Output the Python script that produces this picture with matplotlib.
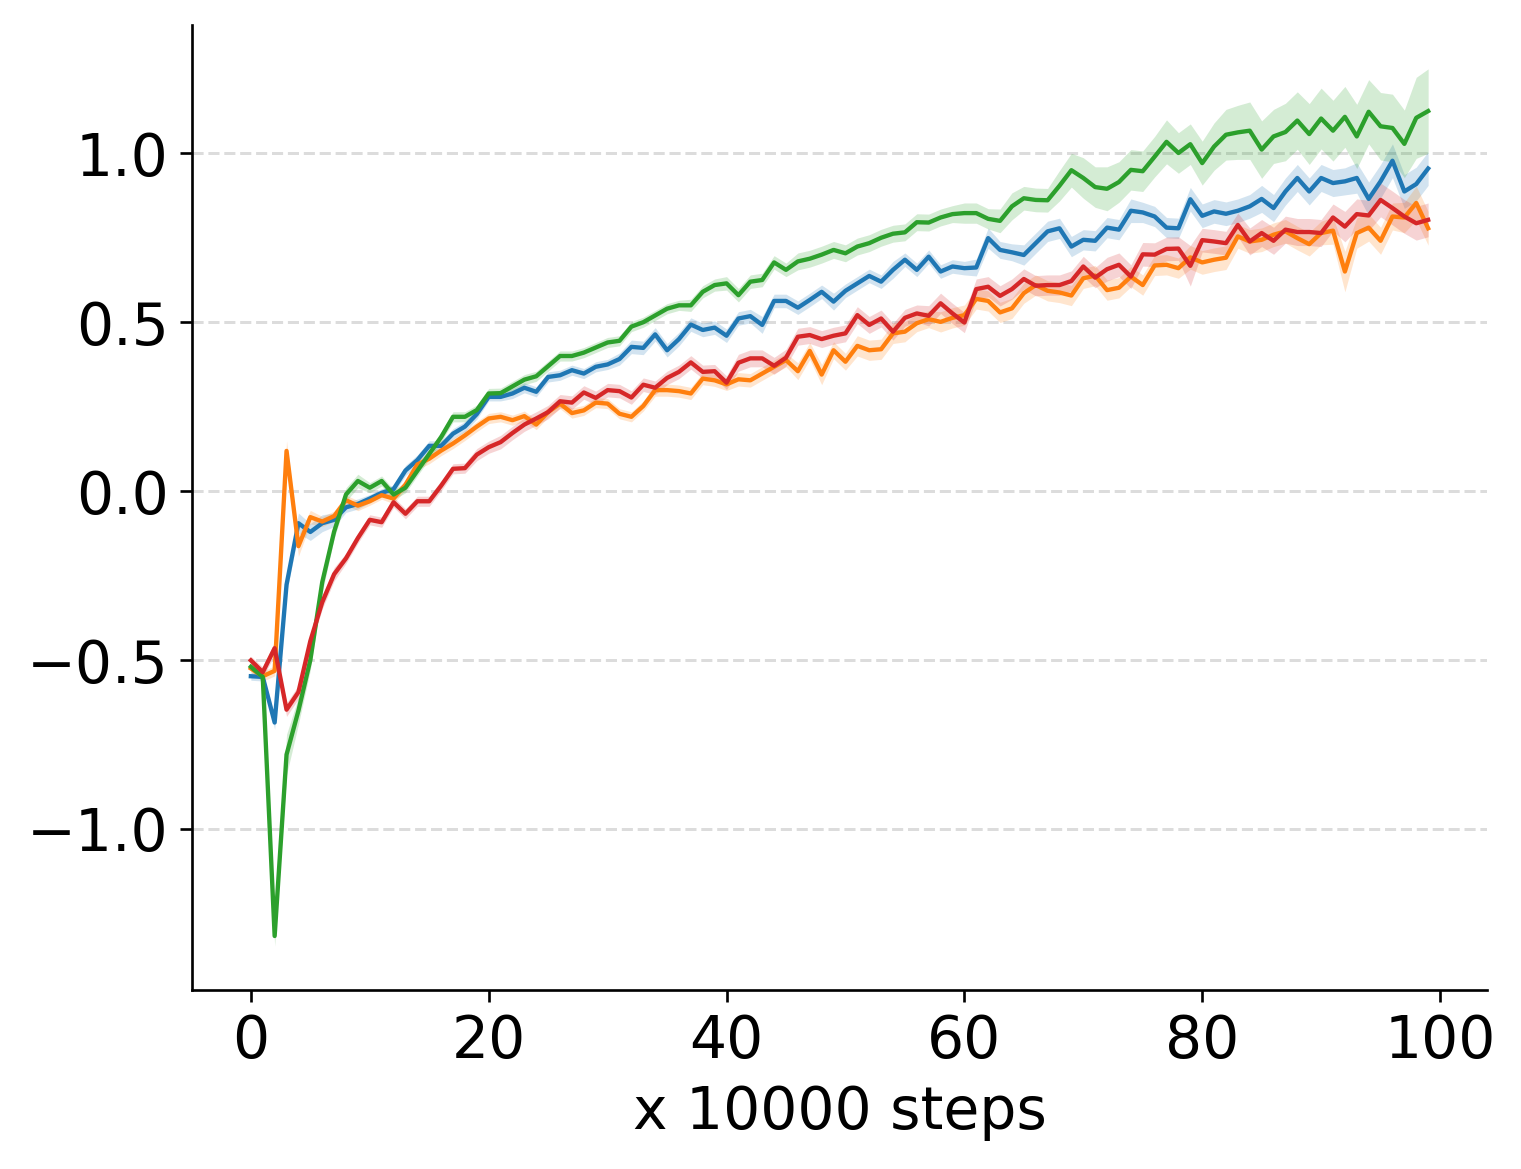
import numpy as np
import matplotlib
matplotlib.use("Agg")
import matplotlib.pyplot as plt

steps = list(range(100))

blue = [-0.548, -0.55, -0.685, -0.277, -0.095, -0.121, -0.095, -0.085, -0.048, -0.038,
        -0.022, -0.005, 0.006, 0.061, 0.092, 0.134, 0.134, 0.17, 0.191, 0.228,
        0.279, 0.279, 0.289, 0.306, 0.294, 0.338, 0.343, 0.358, 0.348, 0.368,
        0.375, 0.391, 0.427, 0.424, 0.464, 0.417, 0.45, 0.493, 0.477, 0.484,
        0.46, 0.511, 0.518, 0.492, 0.563, 0.563, 0.543, 0.566, 0.59, 0.561,
        0.593, 0.615, 0.637, 0.62, 0.655, 0.685, 0.655, 0.694, 0.65, 0.665,
        0.66, 0.662, 0.749, 0.714, 0.707, 0.699, 0.734, 0.769, 0.778, 0.724,
        0.744, 0.741, 0.78, 0.774, 0.83, 0.825, 0.813, 0.78, 0.778, 0.864,
        0.815, 0.828, 0.821, 0.83, 0.843, 0.865, 0.838, 0.887, 0.927, 0.887,
        0.927, 0.912, 0.917, 0.927, 0.865, 0.917, 0.978, 0.887, 0.909, 0.955]

orange = [-0.525, -0.548, -0.532, 0.119, -0.163, -0.077, -0.09, -0.074, -0.027, -0.043,
          -0.03, -0.012, -0.022, 0.019, 0.079, 0.096, 0.12, 0.141, 0.165, 0.191,
          0.215, 0.22, 0.21, 0.222, 0.197, 0.234, 0.259, 0.231, 0.239, 0.262,
          0.259, 0.229, 0.22, 0.252, 0.299, 0.299, 0.296, 0.289, 0.333, 0.328,
          0.316, 0.331, 0.328, 0.348, 0.368, 0.388, 0.355, 0.415, 0.345, 0.417,
          0.383, 0.43, 0.417, 0.42, 0.467, 0.472, 0.497, 0.509, 0.501, 0.513,
          0.521, 0.569, 0.563, 0.529, 0.541, 0.586, 0.61, 0.593, 0.588, 0.579,
          0.63, 0.638, 0.595, 0.602, 0.635, 0.61, 0.668, 0.67, 0.66, 0.692,
          0.677, 0.685, 0.691, 0.754, 0.739, 0.744, 0.759, 0.769, 0.749, 0.731,
          0.764, 0.771, 0.65, 0.764, 0.78, 0.741, 0.813, 0.81, 0.853, 0.778]

green = [-0.52, -0.55, -1.317, -0.78, -0.65, -0.50, -0.27, -0.12, -0.01, 0.03,
         0.01, 0.03, -0.01, 0.01, 0.06, 0.11, 0.16, 0.22, 0.22, 0.24,
         0.289, 0.29, 0.31, 0.33, 0.34, 0.37, 0.40, 0.40, 0.41, 0.425,
         0.44, 0.445, 0.487, 0.50, 0.52, 0.54, 0.55, 0.55, 0.59, 0.61,
         0.615, 0.58, 0.62, 0.625, 0.677, 0.655, 0.68, 0.688, 0.70, 0.714,
         0.704, 0.724, 0.734, 0.75, 0.762, 0.766, 0.796, 0.795, 0.81, 0.82,
         0.823, 0.823, 0.806, 0.80, 0.843, 0.867, 0.862, 0.861, 0.904, 0.95,
         0.927, 0.90, 0.895, 0.915, 0.951, 0.947, 0.99, 1.034, 1.001, 1.027,
         0.971, 1.02, 1.055, 1.062, 1.067, 1.011, 1.05, 1.063, 1.097, 1.057,
         1.103, 1.067, 1.108, 1.05, 1.123, 1.08, 1.075, 1.028, 1.105, 1.125]

red = [-0.501, -0.536, -0.465, -0.647, -0.595, -0.444, -0.329, -0.246, -0.199, -0.139,
       -0.085, -0.092, -0.033, -0.067, -0.03, -0.03, 0.016, 0.066, 0.068, 0.108,
       0.13, 0.145, 0.172, 0.197, 0.215, 0.234, 0.266, 0.262, 0.292, 0.276,
       0.299, 0.296, 0.277, 0.315, 0.306, 0.335, 0.353, 0.381, 0.353, 0.355,
       0.321, 0.38, 0.393, 0.393, 0.371, 0.395, 0.457, 0.462, 0.45, 0.46,
       0.467, 0.521, 0.492, 0.511, 0.472, 0.513, 0.526, 0.519, 0.556, 0.526,
       0.499, 0.598, 0.605, 0.578, 0.598, 0.628, 0.608, 0.61, 0.61, 0.622,
       0.665, 0.632, 0.657, 0.67, 0.635, 0.701, 0.70, 0.717, 0.718, 0.667,
       0.743, 0.739, 0.734, 0.788, 0.739, 0.764, 0.741, 0.774, 0.767, 0.767,
       0.764, 0.81, 0.783, 0.82, 0.816, 0.862, 0.838, 0.813, 0.793, 0.803]

blue_sd = [0.012, 0.012, 0.02, 0.025, 0.03, 0.025, 0.025, 0.02, 0.015, 0.015,
           0.012, 0.012, 0.012, 0.015, 0.015, 0.015, 0.015, 0.015, 0.015, 0.015,
           0.012, 0.012, 0.015, 0.015, 0.015, 0.015, 0.015, 0.015, 0.015, 0.015,
           0.015, 0.018, 0.02, 0.02, 0.02, 0.02, 0.02, 0.02, 0.02, 0.02,
           0.02, 0.02, 0.02, 0.025, 0.02, 0.02, 0.02, 0.02, 0.02, 0.025,
           0.02, 0.02, 0.02, 0.02, 0.025, 0.02, 0.02, 0.02, 0.02, 0.02,
           0.02, 0.025, 0.03, 0.025, 0.025, 0.03, 0.03, 0.03, 0.03, 0.03,
           0.03, 0.03, 0.03, 0.03, 0.035, 0.03, 0.03, 0.03, 0.03, 0.035,
           0.035, 0.035, 0.035, 0.035, 0.035, 0.04, 0.04, 0.04, 0.04, 0.04,
           0.04, 0.04, 0.04, 0.045, 0.05, 0.05, 0.05, 0.05, 0.05, 0.05]

orange_sd = [0.012, 0.015, 0.015, 0.03, 0.03, 0.02, 0.015, 0.015, 0.015, 0.015,
             0.012, 0.012, 0.015, 0.015, 0.015, 0.015, 0.015, 0.015, 0.015, 0.015,
             0.015, 0.015, 0.015, 0.015, 0.015, 0.015, 0.015, 0.015, 0.015, 0.015,
             0.015, 0.015, 0.015, 0.015, 0.018, 0.018, 0.018, 0.018, 0.018, 0.018,
             0.018, 0.02, 0.02, 0.02, 0.02, 0.02, 0.025, 0.025, 0.03, 0.025,
             0.025, 0.03, 0.03, 0.03, 0.03, 0.03, 0.025, 0.025, 0.03, 0.03,
             0.03, 0.03, 0.03, 0.03, 0.03, 0.03, 0.03, 0.03, 0.03, 0.03,
             0.03, 0.03, 0.03, 0.03, 0.03, 0.03, 0.03, 0.03, 0.03, 0.035,
             0.035, 0.035, 0.035, 0.035, 0.035, 0.035, 0.035, 0.035, 0.035, 0.035,
             0.035, 0.04, 0.06, 0.045, 0.04, 0.04, 0.04, 0.045, 0.05, 0.05]

green_sd = [0.01, 0.015, 0.03, 0.06, 0.04, 0.03, 0.03, 0.02, 0.02, 0.02,
            0.015, 0.015, 0.015, 0.015, 0.015, 0.015, 0.015, 0.015, 0.015, 0.015,
            0.015, 0.015, 0.015, 0.015, 0.015, 0.015, 0.015, 0.015, 0.015, 0.015,
            0.015, 0.015, 0.015, 0.015, 0.015, 0.015, 0.015, 0.018, 0.018, 0.018,
            0.02, 0.02, 0.02, 0.02, 0.02, 0.02, 0.025, 0.025, 0.025, 0.025,
            0.025, 0.025, 0.025, 0.025, 0.025, 0.025, 0.025, 0.025, 0.025, 0.025,
            0.03, 0.03, 0.03, 0.035, 0.04, 0.035, 0.035, 0.035, 0.045, 0.05,
            0.06, 0.06, 0.065, 0.06, 0.06, 0.06, 0.06, 0.065, 0.06, 0.06,
            0.065, 0.07, 0.075, 0.08, 0.085, 0.085, 0.08, 0.085, 0.085, 0.09,
            0.09, 0.09, 0.09, 0.095, 0.095, 0.1, 0.1, 0.1, 0.12, 0.125]

red_sd = [0.012, 0.015, 0.02, 0.02, 0.02, 0.02, 0.02, 0.02, 0.015, 0.015,
          0.015, 0.015, 0.015, 0.015, 0.015, 0.015, 0.015, 0.015, 0.015, 0.018,
          0.018, 0.02, 0.02, 0.02, 0.02, 0.02, 0.02, 0.02, 0.02, 0.02,
          0.02, 0.02, 0.02, 0.02, 0.02, 0.02, 0.02, 0.02, 0.02, 0.02,
          0.02, 0.025, 0.025, 0.025, 0.025, 0.025, 0.025, 0.025, 0.025, 0.025,
          0.025, 0.025, 0.025, 0.025, 0.025, 0.025, 0.025, 0.03, 0.03, 0.03,
          0.03, 0.03, 0.03, 0.03, 0.03, 0.03, 0.03, 0.03, 0.03, 0.03,
          0.03, 0.03, 0.035, 0.035, 0.035, 0.035, 0.035, 0.035, 0.035, 0.06,
          0.035, 0.035, 0.035, 0.035, 0.04, 0.04, 0.04, 0.04, 0.04, 0.04,
          0.04, 0.04, 0.045, 0.045, 0.045, 0.05, 0.05, 0.05, 0.05, 0.05]

series = [
    (blue, blue_sd, "#1f77b4"),
    (orange, orange_sd, "#ff7f0e"),
    (green, green_sd, "#2ca02c"),
    (red, red_sd, "#d62728"),
]

fig = plt.figure(figsize=(1521 / 240, 1169 / 240), dpi=240)
ax = fig.add_axes([192 / 1521, 1 - 990 / 1169, (1487 - 192) / 1521, (990 - 25) / 1169])

x = np.array(steps)
for mean, sd, col in series:
    m = np.array(mean)
    s = np.array(sd)
    ax.fill_between(x, m - s, m + s, color=col, alpha=0.2, linewidth=0)
    ax.plot(x, m, color=col, linewidth=1.3)

ax.set_yticks([-1.0, -0.5, 0.0, 0.5, 1.0])
ax.set_xticks([0, 20, 40, 60, 80, 100])
ax.yaxis.grid(True, linestyle="--", color="#dcdcdc", linewidth=0.9)
ax.set_axisbelow(True)
ax.spines["top"].set_visible(False)
ax.spines["right"].set_visible(False)
ax.tick_params(labelsize=17.5)
ax.set_xlabel("x 10000 steps", fontsize=17.5)

fig.savefig("out.png", dpi=240)
